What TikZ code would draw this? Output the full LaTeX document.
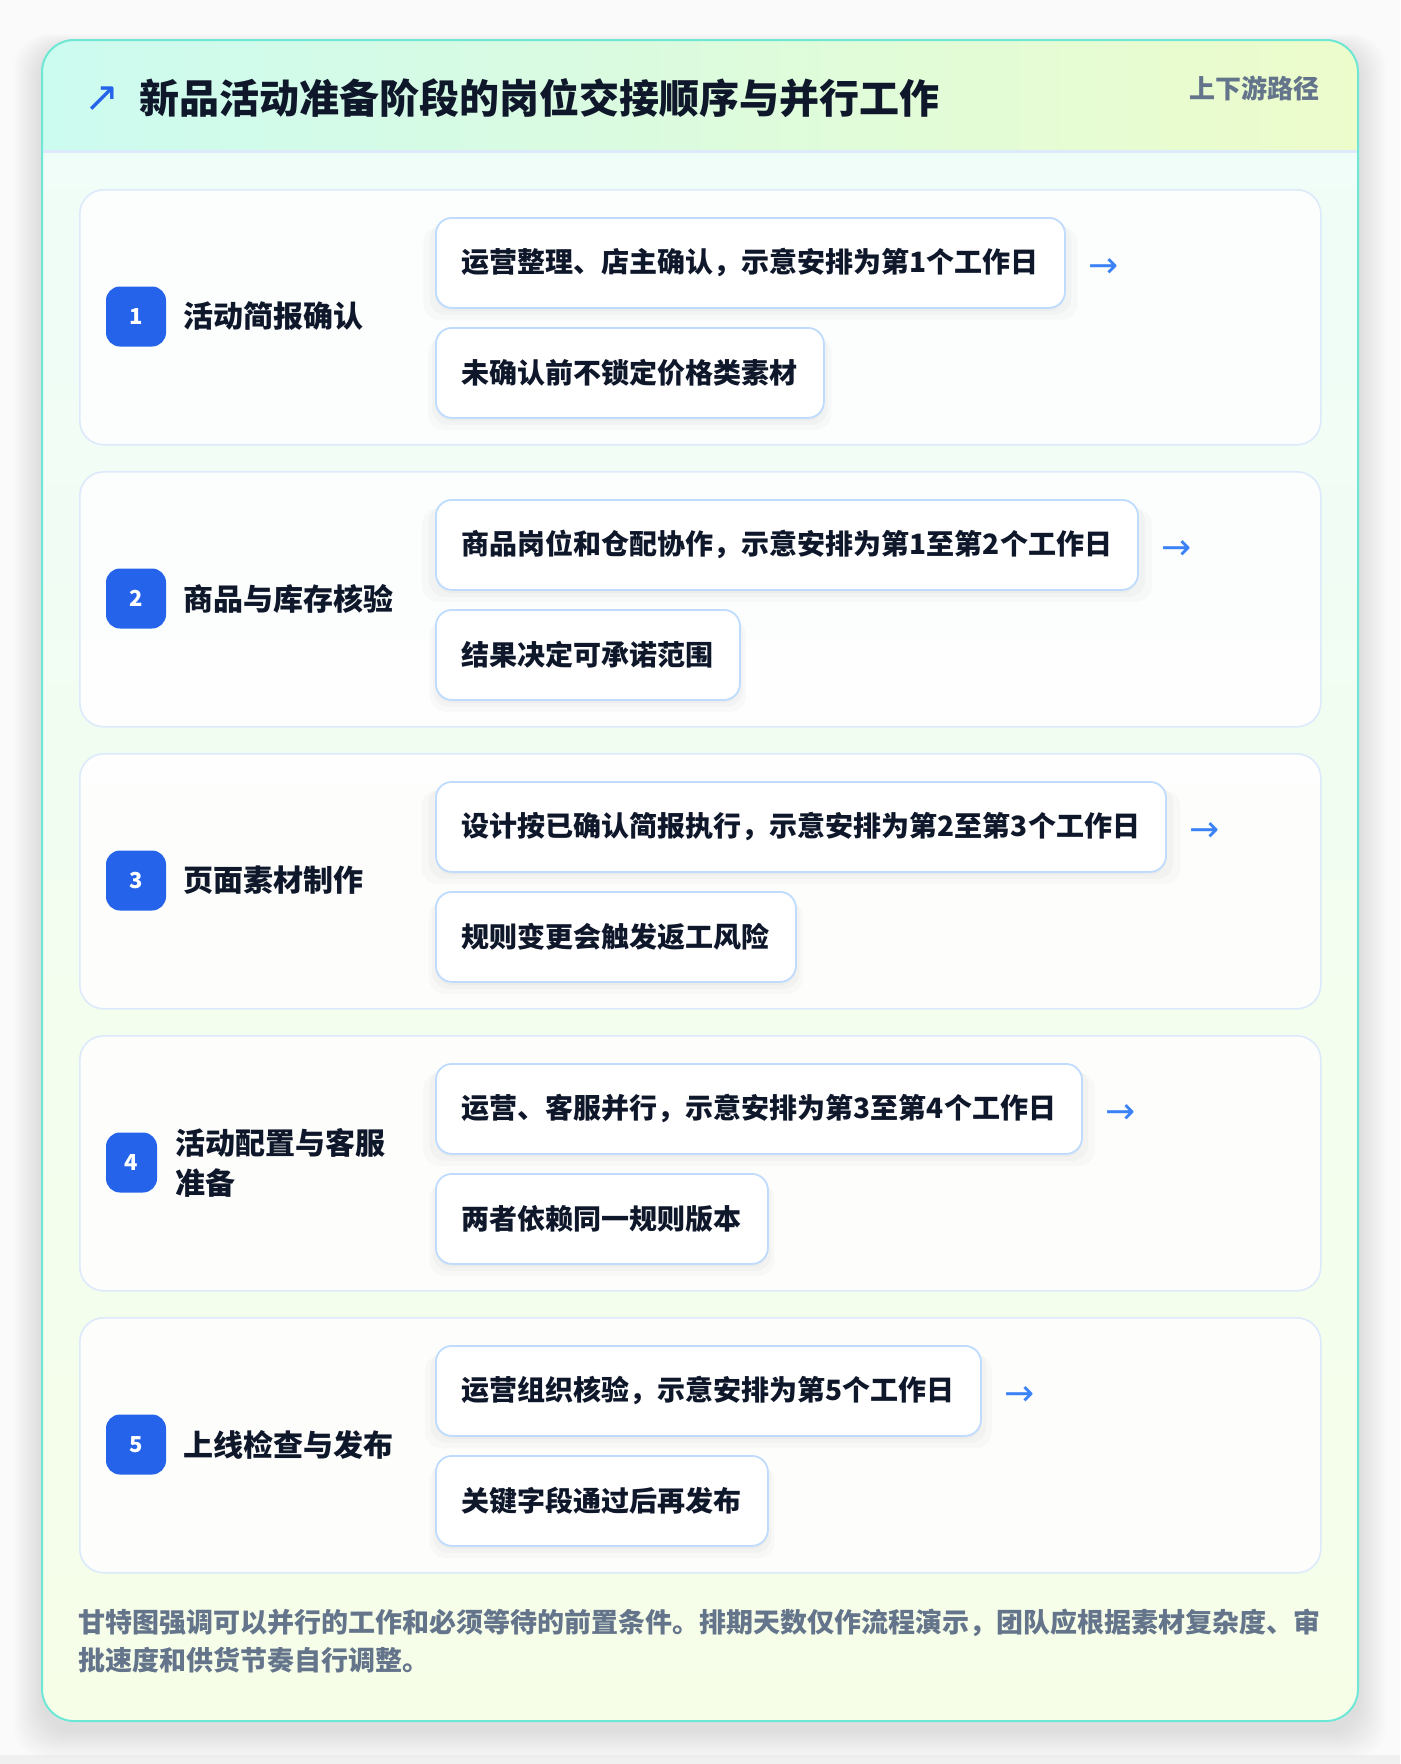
\documentclass[tikz,border=0pt]{standalone}
\usepackage{fontspec}
\setmainfont{Noto Sans CJK SC}
\newfontfamily\symf{DejaVu Sans}
\usetikzlibrary{shadows}
\definecolor{pagebg}{HTML}{FAFAFB}
\definecolor{cardborder}{HTML}{6EE7D4}
\definecolor{hdrL}{HTML}{CCFBF0}
\definecolor{hdrR}{HTML}{EDFCCB}
\definecolor{bodyT}{HTML}{EFFDF9}
\definecolor{bodyB}{HTML}{F6FEE8}
\definecolor{rowborder}{HTML}{DCEAFB}
\definecolor{boxborder}{HTML}{BFDBFE}
\definecolor{badgec}{HTML}{2563EB}
\definecolor{ink}{HTML}{0F172A}
\definecolor{muted}{HTML}{64748B}
\definecolor{arrowc}{HTML}{3B82F6}
\tikzset{
  rowcard/.style={draw=rowborder, line width=1.6pt, fill=white, fill opacity=0.85, text opacity=1, rounded corners=24pt, minimum width=1241pt, minimum height=255pt, inner sep=0pt, anchor=north west},
  stepbox/.style={draw=boxborder, line width=1.8pt, fill=white, rounded corners=16pt, minimum height=90pt, inner xsep=26pt, inner ysep=0pt, anchor=north west, text=ink, font=\fontsize{28}{34}\selectfont\bfseries,
    general shadow={fill=black, opacity=0.018, shadow xshift=0pt, shadow yshift=-10pt, shadow scale=1.04},
    general shadow={fill=black, opacity=0.022, shadow xshift=0pt, shadow yshift=-6pt, shadow scale=1.02},
    general shadow={fill=black, opacity=0.025, shadow xshift=0pt, shadow yshift=-3pt}},
  badge/.style={fill=badgec, rounded corners=14pt, minimum width=60pt, minimum height=60pt, inner sep=0pt, text=white, font=\fontsize{22}{26}\selectfont\bfseries},
  rowlabel/.style={anchor=west, inner sep=0pt, text=ink, font=\fontsize{30}{40}\selectfont\bfseries, align=left},
  nextarrow/.style={anchor=west, inner sep=0pt, text=arrowc, font=\symf\fontsize{36}{36}\selectfont},
}
\begin{document}
\begin{tikzpicture}[x=1pt,y=-1pt]
\useasboundingbox (0,0) rectangle (1400,1764);
\fill[pagebg] (0,0) rectangle (1400,1764);
\fill[black!6] (0,1755) rectangle (1400,1764);
% card shadow
\foreach \i in {1,...,14}{
  \fill[black, opacity=0.006, rounded corners=34pt] (42-\i*2,40+8-\i) rectangle (1358+\i*2,1721+10+\i*2);
}
\begin{scope}
\clip[rounded corners=32pt] (42,40) rectangle (1358,1721);
\shade[top color=bodyT, bottom color=bodyB] (42,40) rectangle (1358,1721);
\shade[left color=hdrL, right color=hdrR] (42,40) rectangle (1358,151);
\fill[rowborder] (42,150) rectangle (1358,152.5);
\end{scope}
\draw[cardborder, line width=2pt, rounded corners=32pt] (42,40) rectangle (1358,1721);
% header
\node[inner sep=0pt, text=badgec, font=\symf\fontsize{42}{42}\selectfont] (icon) at (102,99) {↗};
\node[anchor=west, inner sep=0pt, text=ink, font=\fontsize{40}{48}\selectfont\bfseries] (title) at (139,98) {新品活动准备阶段的岗位交接顺序与并行工作};
\node[anchor=east, inner sep=0pt, text=muted, font=\fontsize{26}{30}\selectfont\bfseries] (tag) at (1320,88) {上下游路径};
% rows
\node[rowcard] (row1) at (79,189) {};
\node[rowcard] (row2) at (79,471) {};
\node[rowcard] (row3) at (79,753) {};
\node[rowcard] (row4) at (79,1035) {};
\node[rowcard] (row5) at (79,1317) {};
% badges and labels
\node[badge] (n1) at (136,316.5) {1};
\node[rowlabel] (l1) at (183,316.5) {活动简报确认};
\node[badge] (n2) at (136,598.5) {2};
\node[rowlabel] (l2) at (183,598.5) {商品与库存核验};
\node[badge] (n3) at (136,880.5) {3};
\node[rowlabel] (l3) at (183,880.5) {页面素材制作};
\node[badge, minimum width=51pt] (n4) at (131.5,1162.5) {4};
\node[rowlabel] (l4) at (175,1162.5) {活动配置与客服\\准备};
\node[badge] (n5) at (136,1444.5) {5};
\node[rowlabel] (l5) at (183,1444.5) {上线检查与发布};
% step boxes
\node[stepbox] (b1a) at (435,217) {运营整理、店主确认，示意安排为第1个工作日};
\node[stepbox] (b1b) at (435,327) {未确认前不锁定价格类素材};
\node[nextarrow] (a1) at ([xshift=22pt, yshift=-5pt]b1a.east) {→};
\node[stepbox] (b2a) at (435,499) {商品岗位和仓配协作，示意安排为第1至第2个工作日};
\node[stepbox] (b2b) at (435,609) {结果决定可承诺范围};
\node[nextarrow] (a2) at ([xshift=22pt, yshift=-5pt]b2a.east) {→};
\node[stepbox] (b3a) at (435,781) {设计按已确认简报执行，示意安排为第2至第3个工作日};
\node[stepbox] (b3b) at (435,891) {规则变更会触发返工风险};
\node[nextarrow] (a3) at ([xshift=22pt, yshift=-5pt]b3a.east) {→};
\node[stepbox] (b4a) at (435,1063) {运营、客服并行，示意安排为第3至第4个工作日};
\node[stepbox] (b4b) at (435,1173) {两者依赖同一规则版本};
\node[nextarrow] (a4) at ([xshift=22pt, yshift=-5pt]b4a.east) {→};
\node[stepbox] (b5a) at (435,1345) {运营组织核验，示意安排为第5个工作日};
\node[stepbox] (b5b) at (435,1455) {关键字段通过后再发布};
\node[nextarrow] (a5) at ([xshift=22pt, yshift=-5pt]b5a.east) {→};
% footer
\node[anchor=north west, inner sep=0pt, text=muted, align=left, font=\fontsize{27}{38}\selectfont\bfseries] (foot) at (78,1609) {甘特图强调可以并行的工作和必须等待的前置条件。排期天数仅作流程演示，团队应根据素材复杂度、审\\批速度和供货节奏自行调整。};
\end{tikzpicture}
\end{document}
